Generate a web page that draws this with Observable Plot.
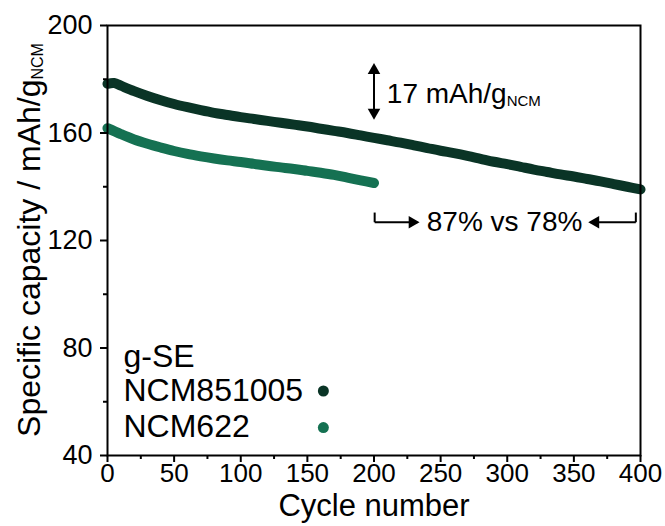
<!DOCTYPE html>
<html>
<head>
<meta charset="utf-8">
<script src="https://cdn.jsdelivr.net/npm/d3@7"></script>
<script src="https://cdn.jsdelivr.net/npm/@observablehq/plot@0.6"></script>
<style>
  html, body { margin: 0; padding: 0; background: #fff; }
  #chart { width: 665px; height: 526px; }
</style>
</head>
<body>
<div id="chart"></div>
<script>
// ---- data ----
const cyclesA = [0,5,10,20,30,40,50,60,70,80,90,100,110,120,130,140,150,160,170,180,190,200,210,220,230,240,250,260,270,280,290,300,310,320,330,340,350,360,370,380,390,400];
const capA = [178.3,178.6,177.6,175.6,173.8,172.2,170.8,169.6,168.5,167.5,166.7,165.9,165.2,164.5,163.8,163.1,162.4,161.6,160.8,160.0,159.1,158.2,157.3,156.4,155.4,154.4,153.4,152.5,151.5,150.4,149.3,148.4,147.4,146.4,145.5,144.6,143.8,142.9,142.0,141.0,140.0,139.0];
const cyclesB = [0,10,20,30,40,50,60,70,80,90,100,110,120,130,140,150,160,170,180,190,200];
const capB = [161.8,159.6,157.6,156.0,154.6,153.3,152.2,151.3,150.5,149.8,149.2,148.5,147.8,147.2,146.6,145.9,145.2,144.4,143.4,142.4,141.4];
const seriesNames = ["NCM851005", "NCM622"];
const seriesColors = ["#0a3426", "#157152"];
const legendTitle = "g-SE";
const xTicks = [0,50,100,150,200,250,300,350,400];
const xMinor = [25,75,125,175,225,275,325,375];
const yTicks = [40,80,120,160,200];
const yMinor = [60,100,140,180];
const xLabel = "Cycle number";
const yLabelMain = "Specific capacity / mAh/g";
const yLabelSub = "NCM";
const annotDiffMain = "17 mAh/g";
const annotDiffSub = "NCM";
const annotRetention = "87% vs 78%";

const dataA = cyclesA.map((c, i) => ({cycle: c, cap: capA[i], s: seriesNames[0]}));
const dataB = cyclesB.map((c, i) => ({cycle: c, cap: capB[i], s: seriesNames[1]}));

// annotation geometry in data units
const dblArrow = {cycle: 200, top: 185.2, bottom: 165.8};
const bracketTop = 130.4, bracketY = 126.8;
const bracketL = {x0: 200.5, tip: 232.5};
const bracketR = {x0: 396.5, tip: 362.5};

const font = "'Liberation Sans', Arial, Helvetica, sans-serif";

const legendRows = [
  {label: legendTitle, cycle: 12, y: 73.1, color: null},
  {label: seriesNames[0], cycle: 12, y: 60.3, color: seriesColors[0], dotY: 64.0},
  {label: seriesNames[1], cycle: 12, y: 46.8, color: seriesColors[1], dotY: 50.4}
];

const plot = Plot.plot({
  width: 665,
  height: 526,
  marginLeft: 107,
  marginRight: 25,
  marginTop: 25,
  marginBottom: 71,
  x: {domain: [0, 400]},
  y: {domain: [40, 200]},
  style: {fontFamily: font, color: "#000", background: "#fff", overflow: "visible"},
  marks: [
    Plot.line(dataA, {x: "cycle", y: "cap", stroke: seriesColors[0], strokeWidth: 10, strokeLinecap: "round", strokeLinejoin: "round", curve: "catmull-rom"}),
    Plot.line(dataB, {x: "cycle", y: "cap", stroke: seriesColors[1], strokeWidth: 10, strokeLinecap: "round", strokeLinejoin: "round", curve: "catmull-rom"}),
    Plot.frame({stroke: "#000", strokeWidth: 2}),
    Plot.axisX(xTicks, {tickSize: 7, tickPadding: 1, fontSize: 26, strokeWidth: 2, tickFormat: d => String(d), label: null}),
    Plot.axisX(xMinor, {tickSize: 4, strokeWidth: 2, tickFormat: () => "", label: null}),
    Plot.axisY(yTicks, {tickSize: 7, tickPadding: 8, fontSize: 27, strokeWidth: 2, tickFormat: d => String(d), label: null}),
    Plot.axisY(yMinor, {tickSize: 4, strokeWidth: 2, tickFormat: () => "", label: null}),
    Plot.text([xLabel], {frameAnchor: "bottom", dy: 60, lineAnchor: "bottom", fontSize: 31, fill: "#000"}),
    // double arrow
    Plot.link([dblArrow], {x1: "cycle", x2: "cycle", y1: d => d.top - 3, y2: d => d.bottom + 3, stroke: "#000", strokeWidth: 2}),
    Plot.dot([dblArrow], {x: "cycle", y: "top", symbol: "triangle2", r: 6, fill: "#000", stroke: null, dy: 5}),
    Plot.dot([dblArrow], {x: "cycle", y: "bottom", symbol: "triangle2", r: 6, fill: "#000", stroke: null, rotate: 180, dy: -5}),
    // retention bracket arrows
    Plot.link([bracketL, bracketR], {x1: "x0", x2: "x0", y1: bracketTop, y2: bracketY, stroke: "#000", strokeWidth: 2}),
    Plot.link([bracketL, bracketR], {x1: "x0", x2: "tip", y1: bracketY, y2: bracketY, stroke: "#000", strokeWidth: 2}),
    Plot.dot([bracketL], {x: "tip", y: bracketY, symbol: "triangle2", r: 6, fill: "#000", stroke: null, rotate: 90, dx: -5}),
    Plot.dot([bracketR], {x: "tip", y: bracketY, symbol: "triangle2", r: 6, fill: "#000", stroke: null, rotate: -90, dx: 5}),
    Plot.text([annotRetention], {x: 298, y: bracketY, lineAnchor: "middle", fontSize: 28, fill: "#000"}),
    // legend
    Plot.text(legendRows, {x: "cycle", y: "y", text: "label", textAnchor: "start", lineAnchor: "bottom", fontSize: 32, fill: "#000"}),
    Plot.dot(legendRows.filter(d => d.color), {x: 162, y: "dotY", r: 5.5, fill: "color", stroke: null})
  ]
});

document.getElementById("chart").appendChild(plot);

// text with subscripts, positioned through the plot's scales
const sx = plot.scale("x"), sy = plot.scale("y");
const svg = d3.select(plot);

// y axis label (rotated)
const yl = svg.append("text")
  .attr("transform", `translate(40,${(sy.apply(40) + sy.apply(200)) / 2}) rotate(-90)`)
  .attr("text-anchor", "middle")
  .attr("font-family", font)
  .attr("font-size", 32)
  .attr("fill", "#000");
yl.append("tspan").text(yLabelMain);
yl.append("tspan").attr("font-size", 16).attr("dy", 3).text(yLabelSub);

// 17 mAh/g_NCM annotation
const an = svg.append("text")
  .attr("x", sx.apply(210))
  .attr("y", sy.apply(170.8))
  .attr("text-anchor", "start")
  .attr("font-family", font)
  .attr("font-size", 28)
  .attr("fill", "#000");
an.append("tspan").text(annotDiffMain);
an.append("tspan").attr("font-size", 15).attr("dy", 3).text(annotDiffSub);
</script>
</body>
</html>
